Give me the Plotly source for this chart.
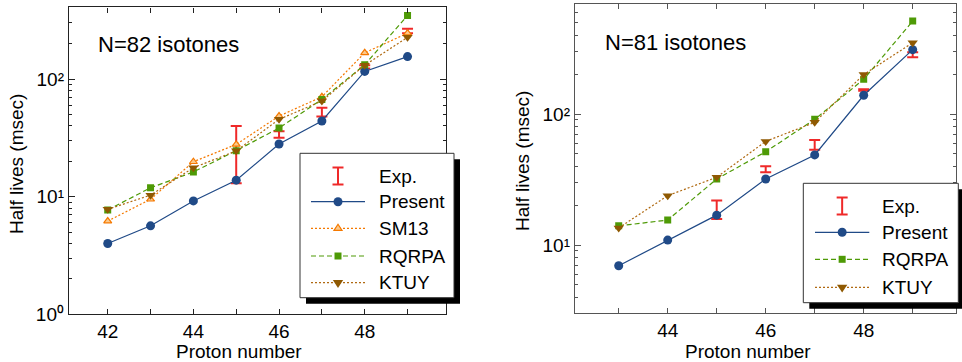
import plotly.graph_objects as go

W, H = 962, 362

# ---------------- data ----------------
# N=82 isotones
z82 = [42, 43, 44, 45, 46, 47, 48, 49]
present82 = [4.0, 5.65, 9.2, 13.8, 28.0, 44.0, 116, 155]
sm13_82 = [6.2, 9.5, 19.8, 27.8, 48.4, 70.6, 167, 245]
rqrpa82 = [7.7, 11.9, 16.2, 24.6, 38.3, 67, 132, 347]
ktuy82 = [7.8, 10.3, 17.6, 24.5, 45.4, 65, 131, 226]
exp82_z = [45, 46, 47, 48, 49]
exp82_hi = [39.8, 36.0, 57.0, 131, 268]
exp82_lo = [13.0, 31.6, 47.9, 123, 245]

# N=81 isotones
z81 = [43, 44, 45, 46, 47, 48, 49]
present81 = [6.95, 10.9, 16.9, 31.9, 48.7, 139, 310]
rqrpa81 = [14.0, 15.5, 31.9, 51.5, 91, 184, 512]
ktuy81 = [13.5, 23.8, 32.9, 61.8, 86.4, 200, 350]
exp81_z = [45, 46, 47, 48, 49]
exp81_hi = [21.9, 39.9, 63.3, 154.5, 296]
exp81_lo = [15.8, 35.9, 53.4, 150.6, 271]

left_xticks = [42, 44, 46, 48]
left_xlabels = ["42", "44", "46", "48"]
left_xminor = [43, 45, 47, 49]
right_xticks = [44, 46, 48]
right_xlabels = ["44", "46", "48"]
right_xminor = [43, 45, 47, 49]
left_yticks = [1, 10, 100]
left_ylabels = ["10⁰", "10¹", "10²"]
right_yticks = [10, 100]
right_ylabels = ["10¹", "10²"]
minor_left = [2, 3, 4, 5, 6, 7, 8, 9, 20, 30, 40, 50, 60, 70, 80, 90, 200, 300, 400]
minor_right = [3, 4, 5, 6, 7, 8, 9, 20, 30, 40, 50, 60, 70, 80, 90, 200, 300, 400, 500, 600]

# ---------------- styles ----------------
RED = "#ef2929"
BLUE = "#204a87"
GREEN = "#4e9a06"
ORANGE = "#f57900"
ORANGE_FILL = "#fcc98a"
BROWN = "#8f5902"
BROWN_LINE = "#b06a12"
FONT = "Liberation Sans, Arial, sans-serif"


def px_x(x):
    return x / W


def px_y(y):
    return (H - y) / H


fig = go.Figure()


def exp_trace(z, hi, lo, xa, ya):
    mid = [(h + l) / 2 for h, l in zip(hi, lo)]
    fig.add_trace(go.Scatter(
        x=z, y=mid, mode="markers", xaxis=xa, yaxis=ya,
        marker=dict(size=1, color="rgba(0,0,0,0)"),
        error_y=dict(type="data", symmetric=False,
                     array=[h - m for h, m in zip(hi, mid)],
                     arrayminus=[m - l for m, l in zip(mid, lo)],
                     color=RED, thickness=2, width=5.5),
        showlegend=False, hoverinfo="skip"))


def present_trace(z, y, xa, ya):
    fig.add_trace(go.Scatter(
        x=z, y=y, mode="lines+markers", xaxis=xa, yaxis=ya,
        line=dict(color=BLUE, width=1.2),
        marker=dict(symbol="circle", size=9, color=BLUE),
        showlegend=False))


def sm13_trace(z, y, xa, ya):
    fig.add_trace(go.Scatter(
        x=z, y=y, mode="lines+markers", xaxis=xa, yaxis=ya,
        line=dict(color=ORANGE, width=1.2, dash="2px,2px"),
        marker=dict(symbol="triangle-up", size=7, color=ORANGE_FILL,
                    line=dict(color=ORANGE, width=1.2)),
        showlegend=False))


def rqrpa_trace(z, y, xa, ya):
    fig.add_trace(go.Scatter(
        x=z, y=y, mode="lines+markers", xaxis=xa, yaxis=ya,
        line=dict(color=GREEN, width=1.2, dash="5px,3px"),
        marker=dict(symbol="square", size=7, color=GREEN),
        showlegend=False))


def ktuy_trace(z, y, xa, ya):
    fig.add_trace(go.Scatter(
        x=z, y=y, mode="lines+markers", xaxis=xa, yaxis=ya,
        line=dict(color=BROWN_LINE, width=1.2, dash="2px,2px"),
        marker=dict(symbol="triangle-down", size=9, color=BROWN),
        showlegend=False))


# left panel
exp_trace(exp82_z, exp82_hi, exp82_lo, "x", "y")
present_trace(z82, present82, "x", "y")
sm13_trace(z82, sm13_82, "x", "y")
rqrpa_trace(z82, rqrpa82, "x", "y")
ktuy_trace(z82, ktuy82, "x", "y")
# right panel
exp_trace(exp81_z, exp81_hi, exp81_lo, "x2", "y2")
present_trace(z81, present81, "x2", "y2")
rqrpa_trace(z81, rqrpa81, "x2", "y2")
ktuy_trace(z81, ktuy81, "x2", "y2")

tickfont = dict(family=FONT, size=19, color="black")


def xaxis_cfg(domain, rng, tv, tt, minor, col, anchor):
    return dict(domain=domain, range=rng, tickvals=tv, ticktext=tt,
                ticks="inside", ticklen=5, tickwidth=1.2, tickcolor=col,
                minor=dict(tickvals=minor, ticks="inside", ticklen=5,
                           tickwidth=1.2, tickcolor=col, showgrid=False),
                showline=True, linecolor=col, linewidth=1.4, mirror="ticks",
                showgrid=False, zeroline=False, tickfont=tickfont,
                anchor=anchor, automargin=False)


def yaxis_cfg(domain, rng, tv, tt, minor, col, anchor):
    return dict(domain=domain, range=rng, type="log", tickvals=tv, ticktext=tt,
                ticks="inside", ticklen=6, tickwidth=1.2, tickcolor=col,
                minor=dict(tickvals=minor, ticks="inside", ticklen=3,
                           tickwidth=1, tickcolor=col, showgrid=False),
                showline=True, linecolor=col, linewidth=1.4, mirror="ticks",
                showgrid=False, zeroline=False, tickfont=tickfont,
                anchor=anchor, automargin=False)


fig.update_layout(
    template="none",
    width=W, height=H, autosize=False,
    margin=dict(l=0, r=0, t=0, b=0, pad=0),
    paper_bgcolor="white", plot_bgcolor="white",
    font=dict(family=FONT, size=19, color="black"),
    showlegend=False,
    xaxis=xaxis_cfg([px_x(69), px_x(445.7)], [41.096, 49.891],
                    left_xticks, left_xlabels, left_xminor, "#222222", "y"),
    yaxis=yaxis_cfg([px_y(314.3), px_y(7.4)], [0, 2.6086],
                    left_yticks, left_ylabels, minor_left, "#222222", "x"),
    xaxis2=xaxis_cfg([px_x(575), px_x(956)], [42.108, 49.884],
                     right_xticks, right_xlabels, right_xminor, "#555555", "y2"),
    yaxis2=yaxis_cfg([px_y(313.3), px_y(4)], [0.4786, 2.8397],
                     right_yticks, right_ylabels, minor_right, "#555555", "x2"),
)

annotations = []


def text(x, y, s, size=19, xanchor="center", angle=0):
    annotations.append(dict(x=px_x(x), y=px_y(y), xref="paper", yref="paper",
                            text=s, showarrow=False, xanchor=xanchor,
                            yanchor="middle", textangle=angle,
                            font=dict(family=FONT, size=size, color="black")))


text(168, 44, "N=82 isotones", size=22)
text(675, 42, "N=81 isotones", size=22)
text(239, 351, "Proton number")
text(748, 351, "Proton number")
text(17, 164, "Half lives (msec)", angle=-90)
text(522, 161, "Half lives (msec)", angle=-90)

shapes = []


def rect(x0, y0, x1, y1, fill, line_col=None, lw=0):
    shapes.append(dict(type="rect", xref="paper", yref="paper",
                       x0=px_x(x0), x1=px_x(x1), y0=px_y(y1), y1=px_y(y0),
                       fillcolor=fill, line=dict(color=line_col or fill, width=lw),
                       layer="above"))


def hline(x0, x1, y, col, dash="solid", lw=1.2):
    shapes.append(dict(type="line", xref="paper", yref="paper",
                       x0=px_x(x0), x1=px_x(x1), y0=px_y(y), y1=px_y(y),
                       line=dict(color=col, width=lw, dash=dash), layer="above"))


def vline(x, y0, y1, col, lw=2):
    shapes.append(dict(type="line", xref="paper", yref="paper",
                       x0=px_x(x), x1=px_x(x), y0=px_y(y0), y1=px_y(y1),
                       line=dict(color=col, width=lw), layer="above"))


def glyph(kind, cx, cy, col, fill=None, size=9):
    base = dict(xref="paper", yref="paper", xsizemode="pixel", ysizemode="pixel",
                xanchor=px_x(cx), yanchor=px_y(cy), layer="above")
    r = size / 2
    if kind == "circle":
        base.update(type="circle", x0=-r, x1=r, y0=-r, y1=r,
                    fillcolor=col, line=dict(width=0))
    elif kind == "square":
        base.update(type="rect", x0=-r, x1=r, y0=-r, y1=r,
                    fillcolor=col, line=dict(width=0))
    elif kind == "tri_up":
        base.update(type="path", path=f"M{-r*1.15},{-r*0.58} L{r*1.15},{-r*0.58} L0,{r*1.15} Z",
                    fillcolor=fill, line=dict(color=col, width=1.2))
    elif kind == "tri_down":
        base.update(type="path", path=f"M{-r*1.15},{r*0.58} L{r*1.15},{r*0.58} L0,{-r*1.15} Z",
                    fillcolor=col, line=dict(width=0))
    shapes.append(base)


def exp_glyph(cx, cy):
    vline(cx, cy - 8.5, cy + 8.5, RED, 2)
    hline(cx - 5.5, cx + 5.5, cy - 8.5, RED, lw=2)
    hline(cx - 5.5, cx + 5.5, cy + 8.5, RED, lw=2)


def legend_box(x0, y0, x1, y1, rows, lx0, lx1, tx):
    rect(x0 + 6, y0 + 6, x1 + 6, y1 + 6, "black")
    rect(x0, y0, x1, y1, "white", "#333333", 1)
    mx = (lx0 + lx1) / 2
    for name, cy in rows:
        if name == "Exp.":
            exp_glyph(mx, cy)
        elif name == "Present":
            hline(lx0, lx1, cy, BLUE, lw=1.2)
            glyph("circle", mx, cy, BLUE, size=9)
        elif name == "SM13":
            hline(lx0, lx1, cy, ORANGE, "2px,2px", 1.2)
            glyph("tri_up", mx, cy, ORANGE, ORANGE_FILL, size=7)
        elif name == "RQRPA":
            hline(lx0, lx1, cy, GREEN, "5px,3px", 1.2)
            glyph("square", mx, cy, GREEN, size=7)
        elif name == "KTUY":
            hline(lx0, lx1, cy, BROWN_LINE, "2px,2px", 1.2)
            glyph("tri_down", mx, cy, BROWN, size=9)
        text(tx, cy, name, xanchor="left")


legend_box(300, 153.3, 454, 297.7,
           [("Exp.", 176), ("Present", 201.7), ("SM13", 228.3),
            ("RQRPA", 256), ("KTUY", 282.7)], 311, 365, 376.7)
legend_box(803.3, 183.3, 958.3, 302.7,
           [("Exp.", 206), ("Present", 232.3), ("RQRPA", 259.3),
            ("KTUY", 287.3)], 815, 869.3, 880)

fig.update_layout(annotations=annotations, shapes=shapes)
fig.write_html("out.html", config={"displayModeBar": False, "responsive": False},
               post_script="document.body.style.margin='0';document.body.style.overflow='hidden';")
